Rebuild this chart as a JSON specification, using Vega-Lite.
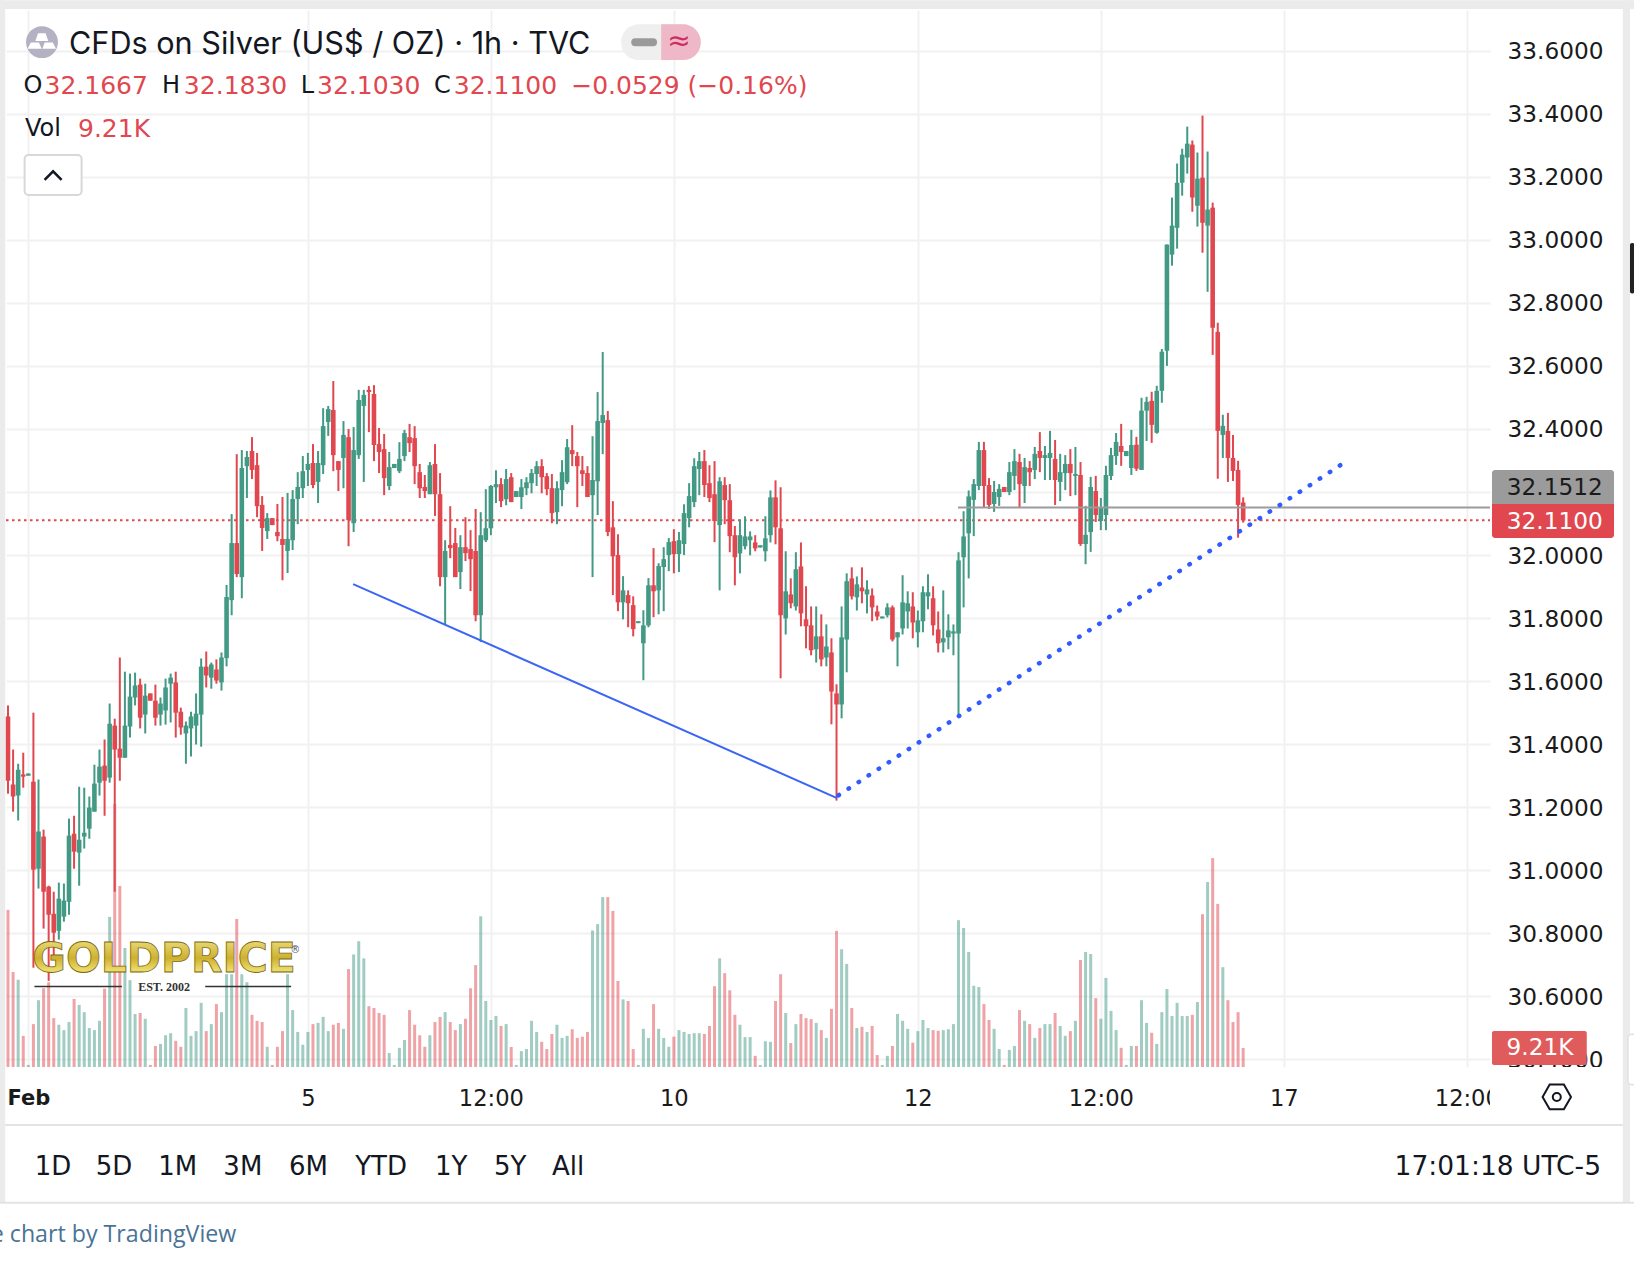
{
"$schema":"https://vega.github.io/schema/vega-lite/v6.json",
"description":"CFDs on Silver 1h candles with volume",
"width":1484,"height":1057,"autosize":"none",
"padding":{"left":6,"top":10,"right":144,"bottom":197},
"background":"#ffffff",
"config":{"view":{"stroke":null},"text":{"font":"DejaVu Sans"}},
"datasets":{"bars":[
{"i":0,"o":31.488,"h":31.523,"l":31.243,"c":31.284,"v":76.2,"dir":"down"},
{"i":1,"o":31.272,"h":31.383,"l":31.186,"c":31.234,"v":46.1,"dir":"down"},
{"i":2,"o":31.237,"h":31.338,"l":31.158,"c":31.319,"v":42.3,"dir":"up"},
{"i":3,"o":31.304,"h":31.373,"l":31.262,"c":31.297,"v":15.1,"dir":"down"},
{"i":4,"o":31.300,"h":31.307,"l":31.300,"c":31.307,"v":1.0,"dir":"up"},
{"i":5,"o":31.281,"h":31.500,"l":30.691,"c":31.002,"v":20.8,"dir":"down"},
{"i":6,"o":31.005,"h":31.288,"l":30.942,"c":31.123,"v":32.4,"dir":"up"},
{"i":7,"o":31.107,"h":31.129,"l":30.815,"c":30.932,"v":38.2,"dir":"down"},
{"i":8,"o":30.948,"h":30.951,"l":30.649,"c":30.859,"v":41.1,"dir":"down"},
{"i":9,"o":30.862,"h":30.932,"l":30.727,"c":30.802,"v":23.7,"dir":"down"},
{"i":10,"o":30.808,"h":30.961,"l":30.780,"c":30.910,"v":20.5,"dir":"up"},
{"i":11,"o":30.853,"h":30.958,"l":30.837,"c":30.904,"v":17.9,"dir":"up"},
{"i":12,"o":30.900,"h":31.164,"l":30.859,"c":31.110,"v":21.8,"dir":"up"},
{"i":13,"o":31.116,"h":31.173,"l":31.005,"c":31.059,"v":33.0,"dir":"down"},
{"i":14,"o":31.056,"h":31.265,"l":30.951,"c":31.097,"v":30.1,"dir":"up"},
{"i":15,"o":31.107,"h":31.262,"l":31.069,"c":31.119,"v":26.6,"dir":"up"},
{"i":16,"o":31.132,"h":31.234,"l":31.100,"c":31.199,"v":18.9,"dir":"up"},
{"i":17,"o":31.186,"h":31.335,"l":31.186,"c":31.275,"v":17.9,"dir":"up"},
{"i":18,"o":31.278,"h":31.383,"l":31.237,"c":31.329,"v":22.4,"dir":"up"},
{"i":19,"o":31.332,"h":31.415,"l":31.173,"c":31.284,"v":38.0,"dir":"down"},
{"i":20,"o":31.294,"h":31.529,"l":31.278,"c":31.465,"v":72.8,"dir":"up"},
{"i":21,"o":31.459,"h":31.481,"l":30.932,"c":31.383,"v":127.6,"dir":"down"},
{"i":22,"o":31.386,"h":31.675,"l":31.284,"c":31.357,"v":87.8,"dir":"down"},
{"i":23,"o":31.357,"h":31.630,"l":31.357,"c":31.459,"v":57.7,"dir":"up"},
{"i":24,"o":31.456,"h":31.624,"l":31.421,"c":31.551,"v":42.1,"dir":"up"},
{"i":25,"o":31.548,"h":31.627,"l":31.523,"c":31.586,"v":25.7,"dir":"up"},
{"i":26,"o":31.589,"h":31.608,"l":31.450,"c":31.484,"v":26.2,"dir":"down"},
{"i":27,"o":31.494,"h":31.592,"l":31.434,"c":31.554,"v":23.4,"dir":"up"},
{"i":28,"o":31.561,"h":31.561,"l":31.538,"c":31.538,"v":1.0,"dir":"down"},
{"i":29,"o":31.538,"h":31.589,"l":31.459,"c":31.484,"v":10.2,"dir":"down"},
{"i":30,"o":31.494,"h":31.548,"l":31.459,"c":31.529,"v":11.2,"dir":"up"},
{"i":31,"o":31.507,"h":31.608,"l":31.462,"c":31.580,"v":15.4,"dir":"up"},
{"i":32,"o":31.592,"h":31.624,"l":31.469,"c":31.611,"v":16.4,"dir":"up"},
{"i":33,"o":31.596,"h":31.630,"l":31.421,"c":31.500,"v":12.7,"dir":"down"},
{"i":34,"o":31.503,"h":31.516,"l":31.430,"c":31.453,"v":9.8,"dir":"down"},
{"i":35,"o":31.434,"h":31.472,"l":31.338,"c":31.459,"v":28.6,"dir":"up"},
{"i":36,"o":31.450,"h":31.503,"l":31.361,"c":31.488,"v":15.1,"dir":"up"},
{"i":37,"o":31.459,"h":31.561,"l":31.399,"c":31.497,"v":17.4,"dir":"up"},
{"i":38,"o":31.494,"h":31.672,"l":31.392,"c":31.646,"v":31.1,"dir":"up"},
{"i":39,"o":31.646,"h":31.694,"l":31.580,"c":31.618,"v":17.4,"dir":"down"},
{"i":40,"o":31.611,"h":31.659,"l":31.576,"c":31.653,"v":20.8,"dir":"up"},
{"i":41,"o":31.637,"h":31.669,"l":31.592,"c":31.602,"v":30.5,"dir":"down"},
{"i":42,"o":31.596,"h":31.691,"l":31.570,"c":31.675,"v":26.6,"dir":"up"},
{"i":43,"o":31.673,"h":31.905,"l":31.647,"c":31.867,"v":45.0,"dir":"up"},
{"i":44,"o":31.857,"h":32.130,"l":31.809,"c":32.038,"v":45.0,"dir":"up"},
{"i":45,"o":32.038,"h":32.320,"l":31.930,"c":31.940,"v":71.8,"dir":"down"},
{"i":46,"o":31.930,"h":32.333,"l":31.863,"c":32.276,"v":45.0,"dir":"up"},
{"i":47,"o":32.282,"h":32.330,"l":32.181,"c":32.311,"v":41.1,"dir":"up"},
{"i":48,"o":32.330,"h":32.374,"l":32.241,"c":32.270,"v":25.3,"dir":"down"},
{"i":49,"o":32.285,"h":32.324,"l":32.120,"c":32.155,"v":22.4,"dir":"down"},
{"i":50,"o":32.159,"h":32.187,"l":32.013,"c":32.086,"v":21.8,"dir":"down"},
{"i":51,"o":32.076,"h":32.133,"l":32.051,"c":32.117,"v":9.8,"dir":"up"},
{"i":52,"o":32.117,"h":32.117,"l":32.095,"c":32.095,"v":1.0,"dir":"down"},
{"i":53,"o":32.073,"h":32.162,"l":32.044,"c":32.060,"v":9.8,"dir":"down"},
{"i":54,"o":32.051,"h":32.184,"l":31.920,"c":32.032,"v":17.4,"dir":"down"},
{"i":55,"o":32.013,"h":32.197,"l":31.943,"c":32.051,"v":45.0,"dir":"up"},
{"i":56,"o":32.047,"h":32.206,"l":32.016,"c":32.178,"v":27.6,"dir":"up"},
{"i":57,"o":32.178,"h":32.263,"l":32.098,"c":32.216,"v":17.0,"dir":"up"},
{"i":58,"o":32.212,"h":32.314,"l":32.181,"c":32.266,"v":10.8,"dir":"up"},
{"i":59,"o":32.270,"h":32.324,"l":32.219,"c":32.289,"v":17.0,"dir":"up"},
{"i":60,"o":32.292,"h":32.352,"l":32.212,"c":32.222,"v":20.8,"dir":"down"},
{"i":61,"o":32.232,"h":32.330,"l":32.165,"c":32.292,"v":21.4,"dir":"up"},
{"i":62,"o":32.285,"h":32.466,"l":32.257,"c":32.409,"v":24.3,"dir":"up"},
{"i":63,"o":32.422,"h":32.473,"l":32.378,"c":32.463,"v":17.4,"dir":"up"},
{"i":64,"o":32.460,"h":32.552,"l":32.266,"c":32.317,"v":20.5,"dir":"down"},
{"i":65,"o":32.298,"h":32.298,"l":32.203,"c":32.270,"v":21.4,"dir":"down"},
{"i":66,"o":32.308,"h":32.425,"l":32.212,"c":32.381,"v":18.5,"dir":"up"},
{"i":67,"o":32.374,"h":32.400,"l":32.028,"c":32.111,"v":47.5,"dir":"down"},
{"i":68,"o":32.101,"h":32.406,"l":32.073,"c":32.333,"v":54.6,"dir":"up"},
{"i":69,"o":32.317,"h":32.524,"l":32.305,"c":32.492,"v":61.0,"dir":"up"},
{"i":70,"o":32.473,"h":32.524,"l":32.232,"c":32.508,"v":52.7,"dir":"up"},
{"i":71,"o":32.524,"h":32.536,"l":32.390,"c":32.517,"v":29.5,"dir":"down"},
{"i":72,"o":32.511,"h":32.539,"l":32.298,"c":32.349,"v":28.6,"dir":"down"},
{"i":73,"o":32.352,"h":32.403,"l":32.260,"c":32.327,"v":26.2,"dir":"down"},
{"i":74,"o":32.336,"h":32.384,"l":32.190,"c":32.244,"v":25.3,"dir":"down"},
{"i":75,"o":32.219,"h":32.327,"l":32.206,"c":32.279,"v":6.8,"dir":"up"},
{"i":76,"o":32.276,"h":32.289,"l":32.276,"c":32.289,"v":1.0,"dir":"up"},
{"i":77,"o":32.266,"h":32.358,"l":32.260,"c":32.305,"v":9.3,"dir":"up"},
{"i":78,"o":32.314,"h":32.397,"l":32.298,"c":32.387,"v":13.1,"dir":"up"},
{"i":79,"o":32.374,"h":32.416,"l":32.327,"c":32.355,"v":27.6,"dir":"down"},
{"i":80,"o":32.371,"h":32.409,"l":32.225,"c":32.282,"v":20.5,"dir":"down"},
{"i":81,"o":32.263,"h":32.289,"l":32.181,"c":32.212,"v":15.4,"dir":"down"},
{"i":82,"o":32.216,"h":32.254,"l":32.181,"c":32.203,"v":9.8,"dir":"down"},
{"i":83,"o":32.193,"h":32.295,"l":32.193,"c":32.285,"v":15.4,"dir":"up"},
{"i":84,"o":32.289,"h":32.352,"l":32.124,"c":32.193,"v":21.8,"dir":"down"},
{"i":85,"o":32.193,"h":32.260,"l":31.901,"c":31.930,"v":24.3,"dir":"down"},
{"i":86,"o":31.930,"h":32.047,"l":31.778,"c":32.013,"v":26.6,"dir":"up"},
{"i":87,"o":32.032,"h":32.155,"l":31.990,"c":32.022,"v":21.8,"dir":"down"},
{"i":88,"o":32.038,"h":32.086,"l":31.930,"c":31.930,"v":17.9,"dir":"down"},
{"i":89,"o":31.946,"h":32.063,"l":31.892,"c":32.025,"v":20.8,"dir":"up"},
{"i":90,"o":32.025,"h":32.120,"l":31.981,"c":32.006,"v":23.4,"dir":"down"},
{"i":91,"o":32.019,"h":32.079,"l":31.886,"c":31.987,"v":38.2,"dir":"down"},
{"i":92,"o":32.013,"h":32.146,"l":31.790,"c":31.809,"v":49.4,"dir":"down"},
{"i":93,"o":31.809,"h":32.136,"l":31.724,"c":32.063,"v":73.1,"dir":"up"},
{"i":94,"o":32.047,"h":32.209,"l":32.041,"c":32.085,"v":32.0,"dir":"up"},
{"i":95,"o":32.085,"h":32.222,"l":32.063,"c":32.219,"v":22.8,"dir":"up"},
{"i":96,"o":32.215,"h":32.269,"l":32.165,"c":32.225,"v":24.7,"dir":"up"},
{"i":97,"o":32.225,"h":32.244,"l":32.152,"c":32.171,"v":19.9,"dir":"down"},
{"i":98,"o":32.177,"h":32.273,"l":32.158,"c":32.241,"v":20.8,"dir":"up"},
{"i":99,"o":32.247,"h":32.260,"l":32.168,"c":32.168,"v":9.7,"dir":"down"},
{"i":100,"o":32.184,"h":32.203,"l":32.184,"c":32.203,"v":1.0,"dir":"up"},
{"i":101,"o":32.184,"h":32.241,"l":32.146,"c":32.215,"v":7.7,"dir":"up"},
{"i":102,"o":32.212,"h":32.247,"l":32.190,"c":32.231,"v":8.7,"dir":"up"},
{"i":103,"o":32.228,"h":32.273,"l":32.196,"c":32.260,"v":22.4,"dir":"up"},
{"i":104,"o":32.257,"h":32.298,"l":32.219,"c":32.282,"v":17.0,"dir":"up"},
{"i":105,"o":32.282,"h":32.304,"l":32.196,"c":32.247,"v":12.2,"dir":"down"},
{"i":106,"o":32.250,"h":32.260,"l":32.190,"c":32.209,"v":8.7,"dir":"down"},
{"i":107,"o":32.212,"h":32.257,"l":32.101,"c":32.133,"v":16.0,"dir":"down"},
{"i":108,"o":32.136,"h":32.234,"l":32.098,"c":32.212,"v":20.5,"dir":"up"},
{"i":109,"o":32.206,"h":32.301,"l":32.155,"c":32.263,"v":14.1,"dir":"up"},
{"i":110,"o":32.231,"h":32.368,"l":32.225,"c":32.342,"v":15.1,"dir":"up"},
{"i":111,"o":32.333,"h":32.412,"l":32.282,"c":32.320,"v":18.3,"dir":"down"},
{"i":112,"o":32.314,"h":32.327,"l":32.152,"c":32.282,"v":14.1,"dir":"down"},
{"i":113,"o":32.269,"h":32.314,"l":32.219,"c":32.257,"v":14.7,"dir":"down"},
{"i":114,"o":32.260,"h":32.282,"l":32.184,"c":32.184,"v":17.0,"dir":"down"},
{"i":115,"o":32.190,"h":32.377,"l":31.930,"c":32.238,"v":66.2,"dir":"up"},
{"i":116,"o":32.234,"h":32.517,"l":32.127,"c":32.425,"v":69.3,"dir":"up"},
{"i":117,"o":32.419,"h":32.644,"l":32.320,"c":32.444,"v":82.4,"dir":"up"},
{"i":118,"o":32.428,"h":32.457,"l":32.060,"c":32.073,"v":82.4,"dir":"down"},
{"i":119,"o":32.088,"h":32.171,"l":31.873,"c":31.996,"v":75.7,"dir":"down"},
{"i":120,"o":32.000,"h":32.066,"l":31.822,"c":31.850,"v":41.7,"dir":"down"},
{"i":121,"o":31.850,"h":31.933,"l":31.796,"c":31.888,"v":32.8,"dir":"up"},
{"i":122,"o":31.873,"h":31.888,"l":31.771,"c":31.847,"v":32.0,"dir":"down"},
{"i":123,"o":31.841,"h":31.869,"l":31.742,"c":31.765,"v":8.7,"dir":"down"},
{"i":124,"o":31.784,"h":31.790,"l":31.784,"c":31.790,"v":1.0,"dir":"up"},
{"i":125,"o":31.720,"h":31.825,"l":31.603,"c":31.777,"v":18.5,"dir":"up"},
{"i":126,"o":31.777,"h":31.927,"l":31.771,"c":31.904,"v":14.1,"dir":"up"},
{"i":127,"o":31.904,"h":32.022,"l":31.803,"c":31.885,"v":30.5,"dir":"down"},
{"i":128,"o":31.888,"h":31.974,"l":31.812,"c":31.965,"v":18.5,"dir":"up"},
{"i":129,"o":31.962,"h":32.025,"l":31.822,"c":31.987,"v":14.1,"dir":"up"},
{"i":130,"o":32.000,"h":32.054,"l":31.949,"c":32.041,"v":9.8,"dir":"up"},
{"i":131,"o":32.044,"h":32.082,"l":31.942,"c":32.003,"v":14.7,"dir":"down"},
{"i":132,"o":32.003,"h":32.073,"l":31.946,"c":32.047,"v":17.9,"dir":"up"},
{"i":133,"o":32.035,"h":32.161,"l":32.000,"c":32.133,"v":17.0,"dir":"up"},
{"i":134,"o":32.117,"h":32.228,"l":32.088,"c":32.187,"v":16.0,"dir":"up"},
{"i":135,"o":32.168,"h":32.307,"l":32.152,"c":32.282,"v":16.4,"dir":"up"},
{"i":136,"o":32.273,"h":32.327,"l":32.190,"c":32.298,"v":16.4,"dir":"up"},
{"i":137,"o":32.298,"h":32.333,"l":32.184,"c":32.222,"v":16.0,"dir":"down"},
{"i":138,"o":32.228,"h":32.285,"l":32.168,"c":32.181,"v":19.9,"dir":"down"},
{"i":139,"o":32.193,"h":32.298,"l":32.041,"c":32.108,"v":39.2,"dir":"down"},
{"i":140,"o":32.095,"h":32.247,"l":31.888,"c":32.234,"v":52.7,"dir":"up"},
{"i":141,"o":32.222,"h":32.247,"l":32.098,"c":32.174,"v":45.5,"dir":"down"},
{"i":142,"o":32.174,"h":32.225,"l":32.009,"c":32.060,"v":37.2,"dir":"down"},
{"i":143,"o":32.063,"h":32.092,"l":31.904,"c":31.993,"v":25.3,"dir":"down"},
{"i":144,"o":32.005,"h":32.113,"l":31.942,"c":32.063,"v":20.5,"dir":"up"},
{"i":145,"o":32.028,"h":32.123,"l":32.018,"c":32.059,"v":14.5,"dir":"up"},
{"i":146,"o":32.047,"h":32.075,"l":31.999,"c":32.059,"v":14.5,"dir":"up"},
{"i":147,"o":32.040,"h":32.063,"l":32.012,"c":32.021,"v":5.4,"dir":"down"},
{"i":148,"o":32.024,"h":32.031,"l":32.024,"c":32.031,"v":1.0,"dir":"up"},
{"i":149,"o":32.012,"h":32.123,"l":31.980,"c":32.053,"v":12.5,"dir":"up"},
{"i":150,"o":32.063,"h":32.205,"l":32.040,"c":32.183,"v":12.2,"dir":"up"},
{"i":151,"o":32.183,"h":32.237,"l":32.034,"c":32.088,"v":32.0,"dir":"down"},
{"i":152,"o":32.085,"h":32.215,"l":31.609,"c":31.809,"v":45.0,"dir":"down"},
{"i":153,"o":31.799,"h":32.012,"l":31.748,"c":31.885,"v":26.2,"dir":"up"},
{"i":154,"o":31.875,"h":31.926,"l":31.831,"c":31.847,"v":11.6,"dir":"down"},
{"i":155,"o":31.837,"h":32.009,"l":31.824,"c":31.955,"v":20.8,"dir":"up"},
{"i":156,"o":31.964,"h":32.040,"l":31.774,"c":31.815,"v":25.7,"dir":"down"},
{"i":157,"o":31.796,"h":31.901,"l":31.704,"c":31.774,"v":23.7,"dir":"down"},
{"i":158,"o":31.777,"h":31.837,"l":31.682,"c":31.698,"v":23.2,"dir":"down"},
{"i":159,"o":31.701,"h":31.837,"l":31.659,"c":31.742,"v":21.4,"dir":"up"},
{"i":160,"o":31.742,"h":31.812,"l":31.647,"c":31.669,"v":17.9,"dir":"down"},
{"i":161,"o":31.675,"h":31.780,"l":31.647,"c":31.710,"v":14.1,"dir":"up"},
{"i":162,"o":31.691,"h":31.736,"l":31.463,"c":31.567,"v":28.2,"dir":"down"},
{"i":163,"o":31.561,"h":31.590,"l":31.221,"c":31.526,"v":66.0,"dir":"down"},
{"i":164,"o":31.526,"h":31.837,"l":31.482,"c":31.739,"v":57.1,"dir":"up"},
{"i":165,"o":31.732,"h":31.942,"l":31.628,"c":31.917,"v":50.0,"dir":"up"},
{"i":166,"o":31.926,"h":31.961,"l":31.859,"c":31.869,"v":28.6,"dir":"down"},
{"i":167,"o":31.866,"h":31.932,"l":31.824,"c":31.907,"v":18.9,"dir":"up"},
{"i":168,"o":31.897,"h":31.961,"l":31.847,"c":31.885,"v":19.5,"dir":"down"},
{"i":169,"o":31.875,"h":31.920,"l":31.815,"c":31.891,"v":17.0,"dir":"up"},
{"i":170,"o":31.872,"h":31.894,"l":31.790,"c":31.834,"v":19.9,"dir":"down"},
{"i":171,"o":31.821,"h":31.840,"l":31.793,"c":31.805,"v":5.8,"dir":"down"},
{"i":172,"o":31.799,"h":31.805,"l":31.799,"c":31.805,"v":1.0,"dir":"up"},
{"i":173,"o":31.809,"h":31.847,"l":31.802,"c":31.834,"v":5.4,"dir":"up"},
{"i":174,"o":31.834,"h":31.840,"l":31.726,"c":31.732,"v":10.2,"dir":"down"},
{"i":175,"o":31.739,"h":31.755,"l":31.647,"c":31.755,"v":25.7,"dir":"up"},
{"i":176,"o":31.767,"h":31.936,"l":31.748,"c":31.850,"v":22.4,"dir":"up"},
{"i":177,"o":31.821,"h":31.885,"l":31.767,"c":31.847,"v":18.5,"dir":"up"},
{"i":178,"o":31.837,"h":31.882,"l":31.736,"c":31.786,"v":11.8,"dir":"down"},
{"i":179,"o":31.755,"h":31.824,"l":31.707,"c":31.793,"v":17.4,"dir":"up"},
{"i":180,"o":31.790,"h":31.901,"l":31.755,"c":31.882,"v":22.8,"dir":"up"},
{"i":181,"o":31.869,"h":31.939,"l":31.828,"c":31.882,"v":18.9,"dir":"up"},
{"i":182,"o":31.863,"h":31.901,"l":31.745,"c":31.777,"v":17.9,"dir":"down"},
{"i":183,"o":31.764,"h":31.821,"l":31.691,"c":31.720,"v":17.6,"dir":"down"},
{"i":184,"o":31.723,"h":31.888,"l":31.691,"c":31.736,"v":17.9,"dir":"up"},
{"i":185,"o":31.739,"h":31.812,"l":31.701,"c":31.761,"v":18.3,"dir":"up"},
{"i":186,"o":31.751,"h":31.780,"l":31.682,"c":31.758,"v":20.8,"dir":"up"},
{"i":187,"o":31.751,"h":32.009,"l":31.485,"c":31.983,"v":71.2,"dir":"up"},
{"i":188,"o":31.993,"h":32.139,"l":31.834,"c":32.059,"v":67.4,"dir":"up"},
{"i":189,"o":32.069,"h":32.205,"l":31.926,"c":32.186,"v":55.8,"dir":"up"},
{"i":190,"o":32.175,"h":32.241,"l":32.060,"c":32.225,"v":39.4,"dir":"up"},
{"i":191,"o":32.219,"h":32.359,"l":32.206,"c":32.333,"v":38.8,"dir":"up"},
{"i":192,"o":32.333,"h":32.359,"l":32.152,"c":32.219,"v":30.5,"dir":"down"},
{"i":193,"o":32.222,"h":32.244,"l":32.146,"c":32.159,"v":22.8,"dir":"down"},
{"i":194,"o":32.162,"h":32.235,"l":32.137,"c":32.200,"v":18.5,"dir":"up"},
{"i":195,"o":32.184,"h":32.225,"l":32.156,"c":32.210,"v":8.7,"dir":"up"},
{"i":196,"o":32.216,"h":32.216,"l":32.200,"c":32.200,"v":1.0,"dir":"down"},
{"i":197,"o":32.200,"h":32.295,"l":32.190,"c":32.263,"v":8.3,"dir":"up"},
{"i":198,"o":32.251,"h":32.336,"l":32.206,"c":32.298,"v":10.2,"dir":"up"},
{"i":199,"o":32.295,"h":32.321,"l":32.149,"c":32.225,"v":27.6,"dir":"down"},
{"i":200,"o":32.219,"h":32.308,"l":32.165,"c":32.279,"v":22.4,"dir":"up"},
{"i":201,"o":32.276,"h":32.298,"l":32.219,"c":32.263,"v":20.8,"dir":"down"},
{"i":202,"o":32.270,"h":32.343,"l":32.241,"c":32.321,"v":14.1,"dir":"up"},
{"i":203,"o":32.330,"h":32.390,"l":32.263,"c":32.308,"v":18.9,"dir":"down"},
{"i":204,"o":32.308,"h":32.346,"l":32.238,"c":32.317,"v":20.8,"dir":"up"},
{"i":205,"o":32.308,"h":32.394,"l":32.238,"c":32.324,"v":20.8,"dir":"up"},
{"i":206,"o":32.305,"h":32.365,"l":32.159,"c":32.238,"v":26.2,"dir":"down"},
{"i":207,"o":32.232,"h":32.321,"l":32.171,"c":32.263,"v":19.9,"dir":"up"},
{"i":208,"o":32.260,"h":32.317,"l":32.206,"c":32.289,"v":15.1,"dir":"up"},
{"i":209,"o":32.289,"h":32.336,"l":32.187,"c":32.260,"v":17.4,"dir":"down"},
{"i":210,"o":32.251,"h":32.343,"l":32.190,"c":32.257,"v":22.4,"dir":"up"},
{"i":211,"o":32.254,"h":32.295,"l":32.029,"c":32.035,"v":51.9,"dir":"down"},
{"i":212,"o":32.035,"h":32.156,"l":31.971,"c":32.064,"v":55.8,"dir":"up"},
{"i":213,"o":32.073,"h":32.248,"l":32.010,"c":32.216,"v":54.8,"dir":"up"},
{"i":214,"o":32.203,"h":32.251,"l":32.105,"c":32.127,"v":33.4,"dir":"down"},
{"i":215,"o":32.108,"h":32.181,"l":32.079,"c":32.152,"v":23.4,"dir":"up"},
{"i":216,"o":32.127,"h":32.283,"l":32.079,"c":32.254,"v":43.2,"dir":"up"},
{"i":217,"o":32.251,"h":32.340,"l":32.238,"c":32.317,"v":27.2,"dir":"up"},
{"i":218,"o":32.314,"h":32.387,"l":32.286,"c":32.359,"v":17.9,"dir":"up"},
{"i":219,"o":32.346,"h":32.416,"l":32.283,"c":32.327,"v":9.3,"dir":"down"},
{"i":220,"o":32.314,"h":32.330,"l":32.314,"c":32.330,"v":1.0,"dir":"up"},
{"i":221,"o":32.276,"h":32.397,"l":32.254,"c":32.349,"v":10.2,"dir":"up"},
{"i":222,"o":32.350,"h":32.375,"l":32.267,"c":32.274,"v":10.2,"dir":"down"},
{"i":223,"o":32.270,"h":32.499,"l":32.270,"c":32.458,"v":32.4,"dir":"up"},
{"i":224,"o":32.458,"h":32.502,"l":32.362,"c":32.486,"v":21.4,"dir":"up"},
{"i":225,"o":32.489,"h":32.518,"l":32.356,"c":32.413,"v":16.6,"dir":"down"},
{"i":226,"o":32.388,"h":32.537,"l":32.385,"c":32.521,"v":11.2,"dir":"up"},
{"i":227,"o":32.521,"h":32.654,"l":32.483,"c":32.645,"v":26.6,"dir":"up"},
{"i":228,"o":32.648,"h":32.985,"l":32.600,"c":32.985,"v":37.8,"dir":"up"},
{"i":229,"o":32.953,"h":33.134,"l":32.918,"c":33.045,"v":24.7,"dir":"up"},
{"i":230,"o":33.038,"h":33.242,"l":32.972,"c":33.181,"v":31.1,"dir":"up"},
{"i":231,"o":33.181,"h":33.289,"l":33.140,"c":33.270,"v":24.7,"dir":"up"},
{"i":232,"o":33.261,"h":33.359,"l":33.210,"c":33.305,"v":24.7,"dir":"up"},
{"i":233,"o":33.302,"h":33.315,"l":33.089,"c":33.134,"v":25.3,"dir":"down"},
{"i":234,"o":33.108,"h":33.277,"l":33.042,"c":33.194,"v":31.5,"dir":"up"},
{"i":235,"o":33.197,"h":33.394,"l":32.959,"c":33.054,"v":74.1,"dir":"down"},
{"i":236,"o":33.045,"h":33.280,"l":32.835,"c":33.096,"v":89.7,"dir":"up"},
{"i":237,"o":33.102,"h":33.118,"l":32.635,"c":32.721,"v":101.3,"dir":"down"},
{"i":238,"o":32.708,"h":32.737,"l":32.242,"c":32.394,"v":79.1,"dir":"down"},
{"i":239,"o":32.381,"h":32.445,"l":32.308,"c":32.410,"v":48.4,"dir":"up"},
{"i":240,"o":32.394,"h":32.451,"l":32.232,"c":32.308,"v":32.4,"dir":"down"},
{"i":241,"o":32.308,"h":32.381,"l":32.235,"c":32.267,"v":21.8,"dir":"down"},
{"i":242,"o":32.270,"h":32.299,"l":32.055,"c":32.159,"v":26.6,"dir":"down"},
{"i":243,"o":32.1667,"h":32.183,"l":32.103,"c":32.11,"v":9.21,"dir":"down"}
]},
"encoding":{"x":{"field":"i","type":"quantitative","title":null,"scale":{"domain":[-0.393,291.56],"padding":0},
 "axis":{"values":[4,59,95,131,179,215,251,287],"labelExpr":"datum.value==4?'Feb':datum.value==59?'5':datum.value==131?'10':datum.value==179?'12':datum.value==251?'17':'12:00'",
 "grid":true,"gridColor":"#f1f1f1","gridWidth":2,"ticks":false,"domain":false,"labelFont":"DejaVu Sans","labelFontSize":{"condition":{"test":"datum.value==4","value":21},"value":22.6},"labelColor":"#1a1a1a","labelPadding":20,"labelOverlap":false,"labelBound":false,"labelFlush":false,
 "labelFontWeight":{"condition":{"test":"datum.value==4","value":"bold"},"value":"normal"}}}},
"layer":[
{"data":{"name":"bars"},"mark":{"type":"bar","size":3,"opacity":0.5},
 "encoding":{"y":{"field":"v","type":"quantitative","title":null,"axis":null,"scale":{"domain":[0,512.6]}},
 "color":{"field":"dir","type":"nominal","legend":null,"scale":{"domain":["up","down"],"range":["#429a85","#e0474f"]}}}},
{"resolve":{"axis":{"y":"independent"}},"layer":[
 {"data":{"values":[{"i":-0.393,"i2":291.56,"p":32.11}]},"mark":{"type":"rule","color":"#e0474f","strokeWidth":2,"strokeDash":[2.5,3.5]},
  "encoding":{"x2":{"field":"i2"},"y":{"field":"p","type":"quantitative","title":null,
   "scale":{"domain":[30.376,33.729]},
   "axis":{"orient":"right","values":[30.4,30.6,30.8,31,31.2,31.4,31.6,31.8,32,32.2,32.4,32.6,32.8,33,33.2,33.4,33.6],"format":".4f","labelExpr":"datum.value==32.2?'':datum.label","grid":true,"gridColor":"#f1f1f1","gridWidth":2,"ticks":false,"domain":false,"labelFont":"DejaVu Sans","labelFontSize":23.2,"labelColor":"#1a1a1a","labelPadding":17,"labelOffset":1,"labelOverlap":false,"labelBound":false,"labelFlush":false}}}},
 {"data":{"name":"bars"},"mark":{"type":"rule","strokeWidth":2},
  "encoding":{"y":{"field":"h","type":"quantitative","title":null,"axis":null,"scale":{"domain":[30.376,33.729]}},"y2":{"field":"l"},
  "color":{"field":"dir","type":"nominal","legend":null}}},
 {"data":{"name":"bars"},"mark":{"type":"bar","size":4.6},
  "encoding":{"y":{"field":"o","type":"quantitative","title":null,"axis":null,"scale":{"domain":[30.376,33.729]}},"y2":{"field":"c"},
  "color":{"field":"dir","type":"nominal","legend":null}}},
 {"data":{"values":[{"i":186.9,"i2":291.56,"p":32.1512}]},"mark":{"type":"rule","color":"#9b9b9b","strokeWidth":2},
  "encoding":{"x2":{"field":"i2"},"y":{"field":"p","type":"quantitative","title":null,"axis":null,"scale":{"domain":[30.376,33.729]}}}},
 {"data":{"values":[{"i":67.9,"p":31.908},{"i":163.1,"p":31.229}]},"mark":{"type":"line","color":"#3b66f5","strokeWidth":2},
  "encoding":{"y":{"field":"p","type":"quantitative","title":null,"axis":null,"scale":{"domain":[30.376,33.729]}}}},
 {"data":{"values":[{"i":163.4,"p":31.238},{"i":262.2,"p":32.286}]},"mark":{"type":"line","color":"#2f5bff","strokeWidth":4.5,"strokeCap":"round","strokeDash":[0.5,11.5]},
  "encoding":{"y":{"field":"p","type":"quantitative","title":null,"axis":null,"scale":{"domain":[30.376,33.729]}}}},
 {"data":{"values":[{"i":-1.6,"i2":320,"p":33.76,"p2":33.732}]},"mark":{"type":"rect","color":"#ebebeb"},
  "encoding":{"x2":{"field":"i2"},"y":{"field":"p","type":"quantitative","title":null,"axis":null,"scale":{"domain":[30.376,33.729]}},"y2":{"field":"p2"}}},
 {"data":{"values":[{"i":-1.6,"i2":-0.55,"p":33.76,"p2":29.945},{"i":317.7,"i2":319.1,"p":33.76,"p2":29.945}]},"mark":{"type":"rect","color":"#ebebeb"},
  "encoding":{"x2":{"field":"i2"},"y":{"field":"p","type":"quantitative","title":null,"axis":null,"scale":{"domain":[30.376,33.729]}},"y2":{"field":"p2"}}},
 {"data":{"values":[{"i":319.1,"i2":320,"p":32.99,"p2":32.83}]},"mark":{"type":"rect","color":"#222222","cornerRadius":2},
  "encoding":{"x2":{"field":"i2"},"y":{"field":"p","type":"quantitative","title":null,"axis":null,"scale":{"domain":[30.376,33.729]}},"y2":{"field":"p2"}}},
 {"data":{"values":[{"i":318.7,"i2":321,"p":30.48,"p2":30.32}]},"mark":{"type":"rect","fill":"#ffffff","stroke":"#e0e0e0","strokeWidth":1.5,"cornerRadius":4},
  "encoding":{"x2":{"field":"i2"},"y":{"field":"p","type":"quantitative","title":null,"axis":null,"scale":{"domain":[30.376,33.729]}},"y2":{"field":"p2"}}},
 {"data":{"values":[{"i":291.56,"i2":296,"p":30.366,"p2":30.17},{"i":292,"i2":316,"p":30.376,"p2":30.335}]},"mark":{"type":"rect","color":"#ffffff"},
  "encoding":{"x2":{"field":"i2"},"y":{"field":"p","type":"quantitative","title":null,"axis":null,"scale":{"domain":[30.376,33.729]}},"y2":{"field":"p2"}}},
 {"data":{"values":[{"i":-0.55,"i2":317.7,"p":30.192},{"i":-1.6,"i2":320,"p":29.945}]},"mark":{"type":"rule","color":"#e3e3e3","strokeWidth":2},
  "encoding":{"x2":{"field":"i2"},"y":{"field":"p","type":"quantitative","title":null,"axis":null,"scale":{"domain":[30.376,33.729]}}}},
 {"data":{"values":[{"i":291.95,"i2":315.96,"p":32.27,"p2":32.162}]},"mark":{"type":"rect","color":"#9b9b9b","cornerRadiusTopLeft":3,"cornerRadiusTopRight":3},
  "encoding":{"x2":{"field":"i2"},"y":{"field":"p","type":"quantitative","title":null,"axis":null,"scale":{"domain":[30.376,33.729]}},"y2":{"field":"p2"}}},
 {"data":{"values":[{"i":291.95,"i2":315.96,"p":32.162,"p2":32.054}]},"mark":{"type":"rect","color":"#e0474f","cornerRadiusBottomLeft":3,"cornerRadiusBottomRight":3},
  "encoding":{"x2":{"field":"i2"},"y":{"field":"p","type":"quantitative","title":null,"axis":null,"scale":{"domain":[30.376,33.729]}},"y2":{"field":"p2"}}},
 {"data":{"values":[{"i":291.95,"i2":310.6,"p":30.49,"p2":30.382}]},"mark":{"type":"rect","color":"#e05c5c","cornerRadius":2},
  "encoding":{"x2":{"field":"i2"},"y":{"field":"p","type":"quantitative","title":null,"axis":null,"scale":{"domain":[30.376,33.729]}},"y2":{"field":"p2"}}},
 {"data":{"values":[{"i":304.3,"p":32.213,"t":"32.1512"}]},"mark":{"type":"text","fontSize":23.2,"color":"#1a1a1a"},
  "encoding":{"y":{"field":"p","type":"quantitative","title":null,"axis":null,"scale":{"domain":[30.376,33.729]}},"text":{"field":"t"}}},
 {"data":{"values":[{"i":304.3,"p":32.105,"t":"32.1100"},{"i":301.4,"p":30.436,"t":"9.21K"}]},"mark":{"type":"text","fontSize":23.2,"color":"#ffffff"},
  "encoding":{"y":{"field":"p","type":"quantitative","title":null,"axis":null,"scale":{"domain":[30.376,33.729]}},"text":{"field":"t"}}},
 {"data":{"values":[{"i":30.7,"p":30.715,"t":"GOLDPRICE"}]},"mark":{"type":"text","font":"DejaVu Sans","fontWeight":"bold","fontSize":41,"stroke":"#7d6a14","strokeWidth":0.8,
   "fill":{"gradient":"linear","x1":0,"y1":0,"x2":0,"y2":1,"stops":[{"offset":0,"color":"#f3e98f"},{"offset":0.5,"color":"#cdb02f"},{"offset":0.75,"color":"#ecdc6c"},{"offset":1,"color":"#a5861c"}]}},
  "encoding":{"y":{"field":"p","type":"quantitative","title":null,"axis":null,"scale":{"domain":[30.376,33.729]}},"text":{"field":"t"}}},
 {"data":{"values":[{"i":56.5,"p":30.747,"t":"®"}]},"mark":{"type":"text","fontSize":10,"color":"#555555"},
  "encoding":{"y":{"field":"p","type":"quantitative","title":null,"axis":null,"scale":{"domain":[30.376,33.729]}},"text":{"field":"t"}}},
 {"data":{"values":[{"i":30.7,"p":30.631,"t":"EST. 2002"}]},"mark":{"type":"text","font":"Liberation Serif","fontWeight":"bold","fontSize":12,"color":"#333333"},
  "encoding":{"y":{"field":"p","type":"quantitative","title":null,"axis":null,"scale":{"domain":[30.376,33.729]}},"text":{"field":"t"}}},
 {"data":{"values":[{"i":5.2,"i2":22.4,"p":30.631},{"i":38.8,"i2":55.7,"p":30.631}]},"mark":{"type":"rule","color":"#333333","strokeWidth":1.5},
  "encoding":{"x2":{"field":"i2"},"y":{"field":"p","type":"quantitative","title":null,"axis":null,"scale":{"domain":[30.376,33.729]}}}},
 {"data":{"values":[{"i":6.69,"p":33.627}]},"mark":{"type":"point","shape":"circle","filled":true,"size":1018,"color":"#b3b1c2","opacity":1},
  "encoding":{"y":{"field":"p","type":"quantitative","title":null,"axis":null,"scale":{"domain":[30.376,33.729]}}}},
 {"data":{"values":[{"i":6.69,"p":33.627}]},"mark":{"type":"point","shape":"M-0.22,-0.5L0.2,-0.5L0.35,-0.07L-0.37,-0.07ZM-0.62,0.02L-0.17,0.02L-0.02,0.36L-0.8,0.36ZM0.15,0.02L0.6,0.02L0.78,0.36L0.02,0.36Z","filled":true,"size":1296,"color":"#ffffff","opacity":1},
  "encoding":{"y":{"field":"p","type":"quantitative","title":null,"axis":null,"scale":{"domain":[30.376,33.729]}}}},
 {"data":{"values":[{"i":12,"p":33.618,"t":"CFDs on Silver (US$ / OZ) · 1h · TVC"}]},"mark":{"type":"text","align":"left","font":"Inter","fontSize":30.6,"color":"#131722"},
  "encoding":{"y":{"field":"p","type":"quantitative","title":null,"axis":null,"scale":{"domain":[30.376,33.729]}},"text":{"field":"t"}}},
 {"data":{"values":[{"i":120.6,"i2":136.3,"p":33.684,"p2":33.57}]},"mark":{"type":"rect","color":"#efefef","cornerRadius":18},
  "encoding":{"x2":{"field":"i2"},"y":{"field":"p","type":"quantitative","title":null,"axis":null,"scale":{"domain":[30.376,33.729]}},"y2":{"field":"p2"}}},
 {"data":{"values":[{"i":128.5,"i2":136.3,"p":33.684,"p2":33.57}]},"mark":{"type":"rect","color":"#eeb8c8","cornerRadiusTopRight":18,"cornerRadiusBottomRight":18},
  "encoding":{"x2":{"field":"i2"},"y":{"field":"p","type":"quantitative","title":null,"axis":null,"scale":{"domain":[30.376,33.729]}},"y2":{"field":"p2"}}},
 {"data":{"values":[{"i":123.4,"i2":126.9,"p":33.627}]},"mark":{"type":"rule","color":"#9a9a9a","strokeWidth":8,"strokeCap":"round"},
  "encoding":{"x2":{"field":"i2"},"y":{"field":"p","type":"quantitative","title":null,"axis":null,"scale":{"domain":[30.376,33.729]}}}},
 {"data":{"values":[{"i":132,"p":33.627,"t":"≈"}]},"mark":{"type":"text","fontSize":28,"font":"DejaVu Sans","color":"#cc2f5f"},
  "encoding":{"y":{"field":"p","type":"quantitative","title":null,"axis":null,"scale":{"domain":[30.376,33.729]}},"text":{"field":"t"}}},
 {"data":{"values":[{"i":3.05,"p":33.488,"t":"O"},{"i":30.3,"p":33.488,"t":"H"},{"i":57.6,"p":33.488,"t":"L"},{"i":83.8,"p":33.488,"t":"C"},{"i":3.34,"p":33.352,"t":"Vol"}]},"mark":{"type":"text","align":"left","fontSize":24,"color":"#131722"},
  "encoding":{"y":{"field":"p","type":"quantitative","title":null,"axis":null,"scale":{"domain":[30.376,33.729]}},"text":{"field":"t"}}},
 {"data":{"values":[{"i":7.18,"p":33.488,"t":"32.1667"},{"i":34.6,"p":33.488,"t":"32.1830"},{"i":60.8,"p":33.488,"t":"32.1030"},{"i":87.7,"p":33.488,"t":"32.1100"},{"i":110.8,"p":33.488,"t":"−0.0529 (−0.16%)"},{"i":13.77,"p":33.352,"t":"9.21K"}]},"mark":{"type":"text","align":"left","fontSize":25,"color":"#e0474f"},
  "encoding":{"y":{"field":"p","type":"quantitative","title":null,"axis":null,"scale":{"domain":[30.376,33.729]}},"text":{"field":"t"}}},
 {"data":{"values":[{"i":3.27,"i2":14.48,"p":33.269,"p2":33.142}]},"mark":{"type":"rect","fill":"#ffffff","stroke":"#d8d8d8","strokeWidth":2,"cornerRadius":4},
  "encoding":{"x2":{"field":"i2"},"y":{"field":"p","type":"quantitative","title":null,"axis":null,"scale":{"domain":[30.376,33.729]}},"y2":{"field":"p2"}}},
 {"data":{"values":[{"i":8.87,"p":33.205}]},"mark":{"type":"point","shape":"M-1,0.55L0,-0.45L1,0.55","size":289,"stroke":"#131722","strokeWidth":2.5,"fill":null,"opacity":1},
  "encoding":{"y":{"field":"p","type":"quantitative","title":null,"axis":null,"scale":{"domain":[30.376,33.729]}}}},
 {"data":{"values":[{"i":304.7,"p":30.281}]},"mark":{"type":"point","shape":"M-1,0L-0.5,-0.87L0.5,-0.87L1,0L0.5,0.87L-0.5,0.87Z","size":807,"stroke":"#131722","strokeWidth":2,"fill":null,"opacity":1},
  "encoding":{"y":{"field":"p","type":"quantitative","title":null,"axis":null,"scale":{"domain":[30.376,33.729]}}}},
 {"data":{"values":[{"i":304.7,"p":30.281}]},"mark":{"type":"point","shape":"circle","size":64,"stroke":"#131722","strokeWidth":2,"fill":null,"opacity":1},
  "encoding":{"y":{"field":"p","type":"quantitative","title":null,"axis":null,"scale":{"domain":[30.376,33.729]}}}},
 {"data":{"values":[{"i":8.85,"p":30.059,"t":"1D"},{"i":20.85,"p":30.059,"t":"5D"},{"i":33.4,"p":30.059,"t":"1M"},{"i":46.2,"p":30.059,"t":"3M"},{"i":59.1,"p":30.059,"t":"6M"},{"i":73.4,"p":30.059,"t":"YTD"},{"i":87.2,"p":30.059,"t":"1Y"},{"i":98.8,"p":30.059,"t":"5Y"},{"i":110.2,"p":30.059,"t":"All"}]},"mark":{"type":"text","fontSize":26,"color":"#131722"},
  "encoding":{"y":{"field":"p","type":"quantitative","title":null,"axis":null,"scale":{"domain":[30.376,33.729]}},"text":{"field":"t"}}},
 {"data":{"values":[{"i":313.4,"p":30.059,"t":"17:01:18 UTC-5"}]},"mark":{"type":"text","align":"right","fontSize":26.5,"color":"#131722"},
  "encoding":{"y":{"field":"p","type":"quantitative","title":null,"axis":null,"scale":{"domain":[30.376,33.729]}},"text":{"field":"t"}}},
 {"data":{"values":[{"i":44.9,"p":29.843,"t":"e chart by TradingView"}]},"mark":{"type":"text","align":"right","font":"Open Sans","fontSize":23.2,"color":"#4a7396"},
  "encoding":{"y":{"field":"p","type":"quantitative","title":null,"axis":null,"scale":{"domain":[30.376,33.729]}},"text":{"field":"t"}}}
]}
],
"resolve":{"scale":{"y":"independent"}}
}
